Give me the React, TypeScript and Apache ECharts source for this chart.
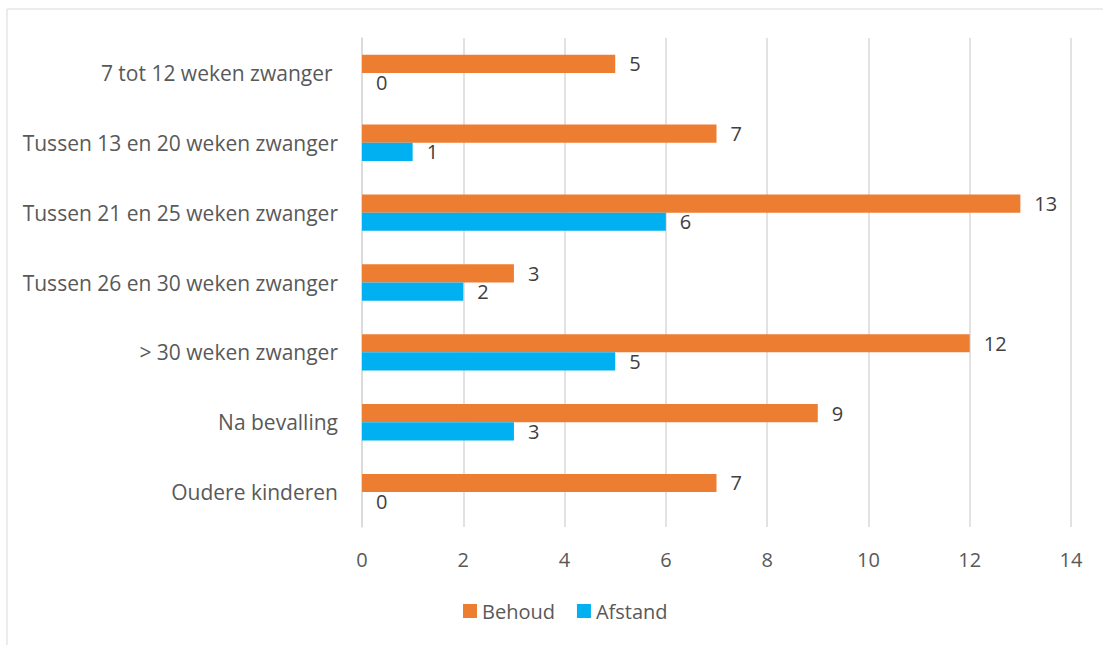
import React, { useEffect, useRef } from "react";
import * as echarts from "echarts";

const categories = [
  "7 tot 12 weken zwanger ",
  "Tussen 13 en 20 weken zwanger",
  "Tussen 21 en 25 weken zwanger",
  "Tussen 26 en 30 weken zwanger",
  "> 30 weken zwanger",
  "Na bevalling",
  "Oudere kinderen",
];
const behoud = [5, 7, 13, 3, 12, 9, 7];
const afstand = [0, 1, 6, 2, 5, 3, 0];
const seriesNames = ["Behoud", "Afstand"];

const FONT = "'Open Sans', sans-serif";

export default function App() {
  const ref = useRef<HTMLDivElement>(null);
  useEffect(() => {
    const chart = echarts.init(ref.current!, null, { renderer: "svg" });
    const labelStyle = {
      show: true,
      position: "right" as const,
      distance: 14,
      color: "#404040",
      fontSize: 20,
      fontFamily: FONT,
    };
    chart.setOption({
      animation: false,
      backgroundColor: "#ffffff",
      grid: { left: 362, right: 32, top: 38, bottom: 118, containLabel: false },
      legend: {
        bottom: 19,
        left: 458,
        itemWidth: 14,
        itemHeight: 14,
        itemGap: 22,
        icon: "rect",
        textStyle: { color: "#595959", fontSize: 20, fontFamily: FONT },
        data: seriesNames,
      },
      xAxis: {
        type: "value",
        min: 0,
        max: 14,
        interval: 2,
        axisLine: { show: false },
        axisTick: { show: false },
        splitLine: { show: true, lineStyle: { color: "#d9d9d9", width: 1.5 } },
        axisLabel: { color: "#595959", fontSize: 20, fontFamily: FONT, margin: 22 },
      },
      yAxis: {
        type: "category",
        inverse: true,
        data: categories,
        axisLine: { show: true, lineStyle: { color: "#d9d9d9", width: 1.5 } },
        axisTick: { show: false },
        axisLabel: { color: "#595959", fontSize: 21, fontFamily: FONT, margin: 24 },
      },
      series: [
        {
          name: seriesNames[0],
          type: "bar",
          data: behoud,
          itemStyle: { color: "#ED7D31" },
          barGap: "0%",
          barCategoryGap: "48%",
          label: labelStyle,
        },
        {
          name: seriesNames[1],
          type: "bar",
          data: afstand,
          itemStyle: { color: "#00B0F0" },
          barGap: "0%",
          barCategoryGap: "48%",
          label: labelStyle,
        },
      ],
      graphic: [
        { type: "line", shape: { x1: 7, y1: 9, x2: 1103, y2: 9 }, style: { stroke: "#d9d9d9", lineWidth: 1 } },
        { type: "line", shape: { x1: 7, y1: 9, x2: 7, y2: 645 }, style: { stroke: "#d9d9d9", lineWidth: 1 } },
      ],
    });
    return () => chart.dispose();
  }, []);
  return (
    <div
      ref={ref}
      style={{ position: "fixed", left: 0, top: 0, width: 1103, height: 645 }}
    />
  );
}
